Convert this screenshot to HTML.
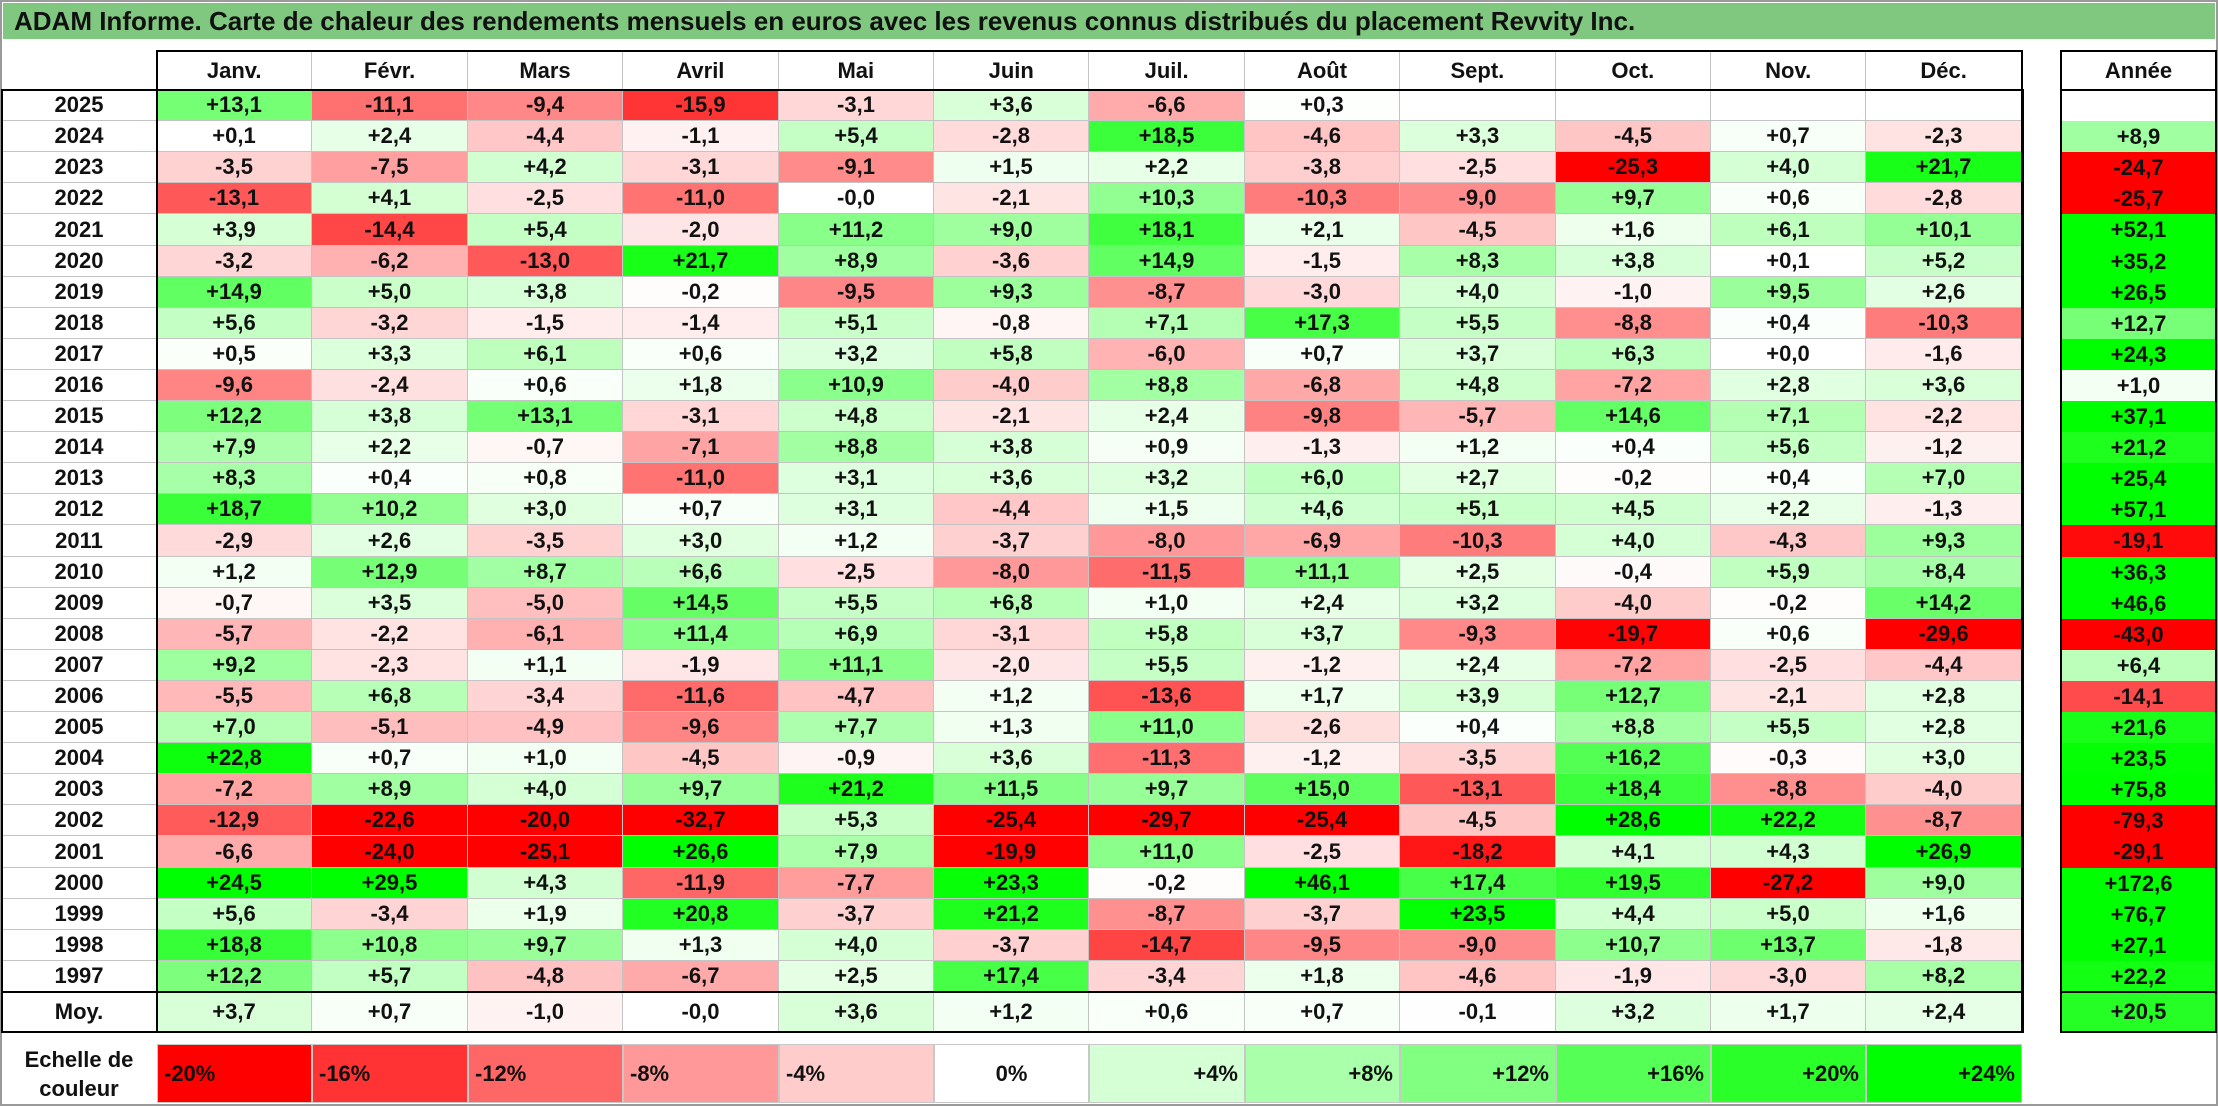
<!DOCTYPE html>
<html><head><meta charset="utf-8">
<style>
body{margin:0;width:2218px;height:1106px;background:#fff;position:relative;overflow:hidden;font-family:"Liberation Sans",Arial,sans-serif;font-weight:bold;color:#111}
.c{position:absolute;box-sizing:border-box;display:flex;align-items:center;justify-content:center;font-size:22px}
.b{position:absolute;box-sizing:border-box;pointer-events:none}
</style></head><body>
<div class="b" style="left:0;top:0;width:2218px;height:1106px;border:2px solid #9a9a9a"></div>
<div class="c" style="left:3px;top:3px;width:2212px;height:36px;background:#80c880;justify-content:flex-start;padding-left:11px;font-size:26px">ADAM Informe. Carte de chaleur des rendements mensuels en euros avec les revenus connus distribués du placement Revvity Inc.</div>
<div id="root"></div>
<script>
const months=["Janv.","Févr.","Mars","Avril","Mai","Juin","Juil.","Août","Sept.","Oct.","Nov.","Déc."];
const years=["2025","2024","2023","2022","2021","2020","2019","2018","2017","2016","2015","2014","2013","2012","2011","2010","2009","2008","2007","2006","2005","2004","2003","2002","2001","2000","1999","1998","1997"];
const values=[
[13.1,-11.1,-9.4,-15.9,-3.1,3.6,-6.6,0.3,null,null,null,null],
[0.1,2.4,-4.4,-1.1,5.4,-2.8,18.5,-4.6,3.3,-4.5,0.7,-2.3],
[-3.5,-7.5,4.2,-3.1,-9.1,1.5,2.2,-3.8,-2.5,-25.3,4.0,21.7],
[-13.1,4.1,-2.5,-11.0,-0.0,-2.1,10.3,-10.3,-9.0,9.7,0.6,-2.8],
[3.9,-14.4,5.4,-2.0,11.2,9.0,18.1,2.1,-4.5,1.6,6.1,10.1],
[-3.2,-6.2,-13.0,21.7,8.9,-3.6,14.9,-1.5,8.3,3.8,0.1,5.2],
[14.9,5.0,3.8,-0.2,-9.5,9.3,-8.7,-3.0,4.0,-1.0,9.5,2.6],
[5.6,-3.2,-1.5,-1.4,5.1,-0.8,7.1,17.3,5.5,-8.8,0.4,-10.3],
[0.5,3.3,6.1,0.6,3.2,5.8,-6.0,0.7,3.7,6.3,0.0,-1.6],
[-9.6,-2.4,0.6,1.8,10.9,-4.0,8.8,-6.8,4.8,-7.2,2.8,3.6],
[12.2,3.8,13.1,-3.1,4.8,-2.1,2.4,-9.8,-5.7,14.6,7.1,-2.2],
[7.9,2.2,-0.7,-7.1,8.8,3.8,0.9,-1.3,1.2,0.4,5.6,-1.2],
[8.3,0.4,0.8,-11.0,3.1,3.6,3.2,6.0,2.7,-0.2,0.4,7.0],
[18.7,10.2,3.0,0.7,3.1,-4.4,1.5,4.6,5.1,4.5,2.2,-1.3],
[-2.9,2.6,-3.5,3.0,1.2,-3.7,-8.0,-6.9,-10.3,4.0,-4.3,9.3],
[1.2,12.9,8.7,6.6,-2.5,-8.0,-11.5,11.1,2.5,-0.4,5.9,8.4],
[-0.7,3.5,-5.0,14.5,5.5,6.8,1.0,2.4,3.2,-4.0,-0.2,14.2],
[-5.7,-2.2,-6.1,11.4,6.9,-3.1,5.8,3.7,-9.3,-19.7,0.6,-29.6],
[9.2,-2.3,1.1,-1.9,11.1,-2.0,5.5,-1.2,2.4,-7.2,-2.5,-4.4],
[-5.5,6.8,-3.4,-11.6,-4.7,1.2,-13.6,1.7,3.9,12.7,-2.1,2.8],
[7.0,-5.1,-4.9,-9.6,7.7,1.3,11.0,-2.6,0.4,8.8,5.5,2.8],
[22.8,0.7,1.0,-4.5,-0.9,3.6,-11.3,-1.2,-3.5,16.2,-0.3,3.0],
[-7.2,8.9,4.0,9.7,21.2,11.5,9.7,15.0,-13.1,18.4,-8.8,-4.0],
[-12.9,-22.6,-20.0,-32.7,5.3,-25.4,-29.7,-25.4,-4.5,28.6,22.2,-8.7],
[-6.6,-24.0,-25.1,26.6,7.9,-19.9,11.0,-2.5,-18.2,4.1,4.3,26.9],
[24.5,29.5,4.3,-11.9,-7.7,23.3,-0.2,46.1,17.4,19.5,-27.2,9.0],
[5.6,-3.4,1.9,20.8,-3.7,21.2,-8.7,-3.7,23.5,4.4,5.0,1.6],
[18.8,10.8,9.7,1.3,4.0,-3.7,-14.7,-9.5,-9.0,10.7,13.7,-1.8],
[12.2,5.7,-4.8,-6.7,2.5,17.4,-3.4,1.8,-4.6,-1.9,-3.0,8.2]];
const annual=[null,8.9,-24.7,-25.7,52.1,35.2,26.5,12.7,24.3,1.0,37.1,21.2,25.4,57.1,-19.1,36.3,46.6,-43.0,6.4,-14.1,21.6,23.5,75.8,-79.3,-29.1,172.6,76.7,27.1,22.2];
const averages=[3.7,0.7,-1.0,-0.0,3.6,1.2,0.6,0.7,-0.1,3.2,1.7,2.4];
const annualAverage=20.5;
const scaleTicks=[-20,-16,-12,-8,-4,0,4,8,12,16,20,24];

const root=document.getElementById('root');
const X0=157,CW=155.4,Y0=90,RH=31.1,AX=2061,AW=155;
const MOYT=992,MOYB=1031;
function xOf(j){return X0+j*CW;}
function yOf(i){return Y0+i*RH;}
function color(v){
  if(v===null) return '#fff';
  if(v<0){const t=Math.min(1,-v/20);const c=Math.round(255*(1-t));return `rgb(255,${c},${c})`;}
  const t=Math.min(1,v/24);const c=Math.round(255*(1-t));return `rgb(${c},255,${c})`;
}
function fmt(v){if(v===null)return '';const s=(v<0||Object.is(v,-0))?'-':'+';return s+Math.abs(v).toFixed(1).replace('.',',');}
function box(x,y,w,h,css,txt){const d=document.createElement('div');d.className='c';d.style.cssText=`left:${x}px;top:${y}px;width:${w}px;height:${h}px;`+css;if(txt!==undefined)d.textContent=txt;root.appendChild(d);return d;}
const grid='border-right:1px solid #c4c4c4;border-bottom:1px solid #c4c4c4;';
months.forEach((m,j)=>{const d=box(xOf(j),51,CW,39,'border-right:1px solid #c4c4c4;',m);

});
{const d=box(AX,51,AW,39,'','Année');

}
years.forEach((y,i)=>{
  const top=Math.round(yOf(i)),h=Math.round(yOf(i+1))-top;
  const l=box(1,top,X0-1,h,'border-bottom:1px solid #c4c4c4;',y);
  
  
  values[i].forEach((v,j)=>{
    const x=Math.round(xOf(j)),w=Math.round(xOf(j+1))-x;
    const d=box(x,top,w,h,grid+'background:'+color(v)+';',fmt(v));
    
    
  });
  const a=box(AX,top,AW,h,'background:'+color(annual[i])+';',fmt(annual[i]));
  
  
});
{const l=box(1,MOYT,X0-1,MOYB-MOYT,'','Moy.');

}
averages.forEach((v,j)=>{const x=Math.round(xOf(j)),w=Math.round(xOf(j+1))-x;
const d=box(x,MOYT,w,MOYB-MOYT,'border-right:1px solid #c4c4c4;background:'+color(v)+';',fmt(v));

});
{const d=box(AX,MOYT,AW,MOYB-MOYT,'background:'+color(annualAverage)+';',fmt(annualAverage));

}
function line(x,y,w,h,css,name){const d=document.createElement('div');d.className='b';d.style.cssText=`left:${x}px;top:${y}px;width:${w}px;height:${h}px;`+css;


root.appendChild(d);}
line(X0-1,50,2024-X0,MOYB-48,'border:2px solid #000;','month-frame');
line(1,89,2023,MOYB-87,'border:2px solid #000;','table-frame');
line(1,89,2023,2,'background:#000;','header-line');
line(1,MOYT-1,2023,2,'background:#000;','average-line');
line(AX-1,50,AW+2,MOYB-48,'border:2px solid #000;','annual-frame');
line(AX-1,89,AW+2,2,'background:#000;','annual-header-line');
line(AX-1,MOYT-1,AW+2,2,'background:#000;','annual-average-line');
{const l=box(1,1044,X0-1,59,'font-size:22px;line-height:29px;text-align:center;','Echelle de couleur');
l.style.display='block';l.style.paddingTop='1px';

}
scaleTicks.forEach((t,j)=>{const x=Math.round(xOf(j)),w=Math.round(xOf(j+1))-x;
const jc=t<0?'flex-start':(t===0?'center':'flex-end');
const d=box(x,1044,w,59,'border:1px solid #c8c8c8;background:'+color(t)+';justify-content:'+jc+';padding:0 6px;',(t>0?'+':'')+t+'%');

});
</script>
</body></html>
